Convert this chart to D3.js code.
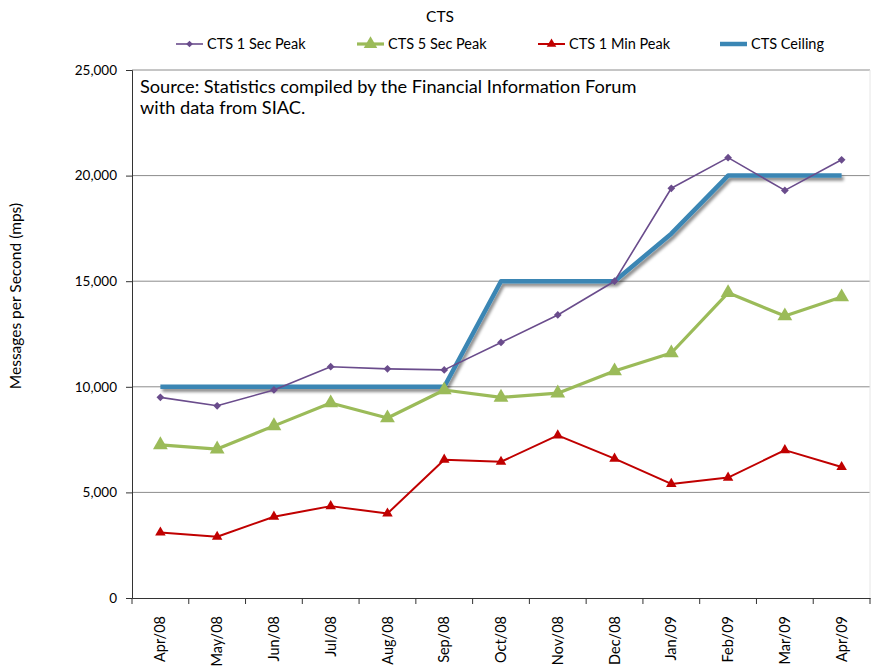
<!DOCTYPE html>
<html>
<head>
<meta charset="utf-8">
<script src="https://cdn.jsdelivr.net/npm/d3@7"></script>
<style>
  body { margin: 0; background: #fff; }
  text { font-family: Lato, "Open Sans", sans-serif; fill: #000; }
</style>
</head>
<body>
<div id="chart"></div>
<script>
const months = ['Apr/08', 'May/08', 'Jun/08', 'Jul/08', 'Aug/08', 'Sep/08', 'Oct/08',
                'Nov/08', 'Dec/08', 'Jan/09', 'Feb/09', 'Mar/09', 'Apr/09'];
const sec1Peak = [9500, 9100, 9850, 10950, 10850, 10800, 12100, 13400, 15000, 19400, 20850, 19300, 20750];
const sec5Peak = [7250, 7050, 8150, 9230, 8520, 9850, 9500, 9700, 10750, 11600, 14450, 13350, 14250];
const min1Peak = [3100, 2900, 3850, 4350, 4000, 6550, 6450, 7700, 6600, 5400, 5700, 7000, 6200];
const ceiling = [10000, 10000, 10000, 10000, 10000, 10000, 15000, 15000, 15000, 17250, 20000, 20000, 20000];
const yTicks = [0, 5000, 10000, 15000, 20000, 25000];

const width = 875, height = 671;
const margin = {top: 70, right: 5, bottom: 73, left: 132};

const svg = d3.select('#chart').append('svg')
    .attr('width', width)
    .attr('height', height);

const defs = svg.append('defs');
defs.append('filter')
    .attr('id', 'shadow')
    .attr('x', '-10%').attr('y', '-10%')
    .attr('width', '120%').attr('height', '130%')
    .append('feDropShadow')
    .attr('dx', 2).attr('dy', 3)
    .attr('stdDeviation', 1.6)
    .attr('flood-color', '#000')
    .attr('flood-opacity', 0.45);

const x = d3.scaleBand()
    .domain(months)
    .range([margin.left, width - margin.right]);

const y = d3.scaleLinear()
    .domain([0, 25000])
    .range([height - margin.bottom, margin.top]);

const cx = d => x(d) + x.bandwidth() / 2;

// gridlines
svg.append('g')
    .selectAll('line')
    .data(yTicks.slice(1))
    .enter()
    .append('line')
    .attr('x1', margin.left)
    .attr('x2', width - margin.right)
    .attr('y1', d => y(d))
    .attr('y2', d => y(d))
    .attr('stroke', '#8c8c8c')
    .attr('stroke-width', 1);

svg.append('line')
    .attr('x1', width - margin.right).attr('x2', width - margin.right)
    .attr('y1', margin.top).attr('y2', height - margin.bottom)
    .attr('stroke', '#e6e6e6');

// axes
const yAxis = svg.append('g')
    .attr('transform', `translate(${margin.left},0)`)
    .call(d3.axisLeft(y).tickValues(yTicks).tickFormat(d3.format(',')).tickSize(6).tickPadding(9));
yAxis.select('.domain').attr('stroke', '#333');
yAxis.selectAll('.tick line').attr('stroke', '#333');
yAxis.selectAll('text').style('font-size', '13.5px').attr('fill', '#000');

const xAxis = svg.append('g')
    .attr('transform', `translate(0,${height - margin.bottom})`)
    .call(d3.axisBottom(x).tickSize(0).tickSizeOuter(0));
xAxis.select('.domain').attr('stroke', '#333');
xAxis.selectAll('.tick text')
    .style('font-size', '14.5px')
    .attr('fill', '#000')
    .attr('text-anchor', 'end')
    .attr('transform', 'rotate(-90)')
    .attr('x', -18)
    .attr('y', 0)
    .attr('dy', '0.35em');

// category boundary ticks
svg.append('g')
    .selectAll('line')
    .data(months.concat(['end']))
    .enter()
    .append('line')
    .attr('x1', (d, i) => i < months.length ? x(d) : x.range()[1])
    .attr('x2', (d, i) => i < months.length ? x(d) : x.range()[1])
    .attr('y1', height - margin.bottom)
    .attr('y2', height - margin.bottom + 6)
    .attr('stroke', '#333');

// y axis title
svg.append('text')
    .attr('transform', 'translate(21,296) rotate(-90)')
    .attr('text-anchor', 'middle')
    .style('font-size', '15.5px')
    .text('Messages per Second (mps)');

// title
svg.append('text')
    .attr('x', 440).attr('y', 22)
    .attr('text-anchor', 'middle')
    .style('font-size', '15.5px')
    .text('CTS');

// source note
const note = svg.append('text')
    .attr('x', 140).attr('y', 93)
    .style('font-size', '18.2px');
note.append('tspan').attr('x', 140).text('Source: Statistics compiled by the Financial Information Forum');
note.append('tspan').attr('x', 140).attr('dy', 21).text('with data from SIAC.');

const line = d3.line()
    .x((d, i) => cx(months[i]))
    .y(d => y(d));

// ceiling
svg.append('path')
    .datum(ceiling)
    .attr('d', line)
    .attr('fill', 'none')
    .attr('stroke', '#3a86b4')
    .attr('stroke-width', 4.5)
    .attr('stroke-linejoin', 'round')
    .attr('filter', 'url(#shadow)');

const series = [
    {name: 'CTS 1 Sec Peak', values: sec1Peak, color: '#6a4c8c', width: 1.6, symbol: d3.symbolSquare, size: 30, rot: 45},
    {name: 'CTS 5 Sec Peak', values: sec5Peak, color: '#9bbb59', width: 3.2, symbol: d3.symbolTriangle, size: 95, rot: 0},
    {name: 'CTS 1 Min Peak', values: min1Peak, color: '#c00000', width: 2, symbol: d3.symbolTriangle, size: 48, rot: 0}
];

series.forEach(s => {
    svg.append('path')
        .datum(s.values)
        .attr('d', line)
        .attr('fill', 'none')
        .attr('stroke', s.color)
        .attr('stroke-width', s.width)
        .attr('stroke-linejoin', 'round');

    svg.append('g')
        .selectAll('path')
        .data(s.values)
        .enter()
        .append('path')
        .attr('d', d3.symbol().type(s.symbol).size(s.size))
        .attr('transform', (d, i) => `translate(${cx(months[i])},${y(d)}) rotate(${s.rot})`)
        .attr('fill', s.color);
});

// legend
const legendItems = [
    {name: 'CTS 1 Sec Peak', color: '#6a4c8c', width: 1.6, symbol: d3.symbolSquare, size: 22, rot: 45, x: 176},
    {name: 'CTS 5 Sec Peak', color: '#9bbb59', width: 3.2, symbol: d3.symbolTriangle, size: 80, rot: 0, x: 357},
    {name: 'CTS 1 Min Peak', color: '#c00000', width: 2, symbol: d3.symbolTriangle, size: 40, rot: 0, x: 538},
    {name: 'CTS Ceiling', color: '#3a86b4', width: 4.5, symbol: null, rot: 0, x: 720}
];

const legend = svg.append('g');
legendItems.forEach(it => {
    const g = legend.append('g').attr('transform', `translate(${it.x},44)`);
    g.append('line')
        .attr('x1', 0).attr('x2', 27)
        .attr('stroke', it.color)
        .attr('stroke-width', it.width);
    if (it.symbol) {
        g.append('path')
            .attr('d', d3.symbol().type(it.symbol).size(it.size))
            .attr('transform', `translate(13.5,0) rotate(${it.rot})`)
            .attr('fill', it.color);
    }
    g.append('text')
        .attr('x', 31).attr('y', 0)
        .attr('dy', '0.35em')
        .style('font-size', '14.5px')
        .text(it.name);
});
</script>
</body>
</html>
